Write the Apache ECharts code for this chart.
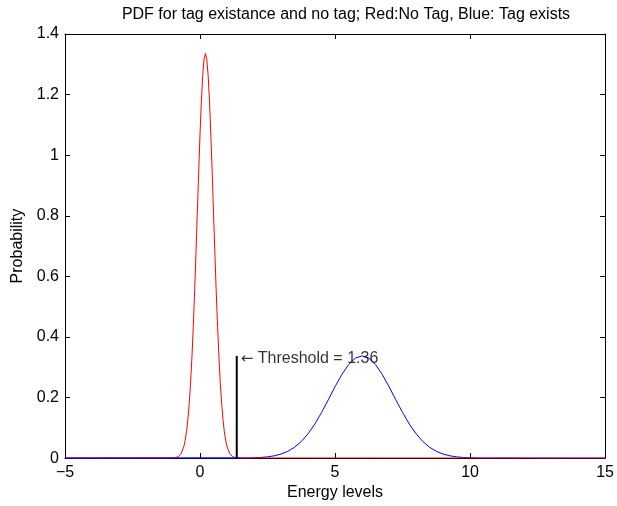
<!DOCTYPE html>
<html><head><meta charset="utf-8">
<script src="https://cdn.jsdelivr.net/npm/echarts@6/dist/echarts.min.js"></script>
<style>html,body{margin:0;padding:0;background:#fff}#c{width:617px;height:506px}</style>
</head><body><div id="c"></div>
<script>
const titleText = "PDF for tag existance and no tag; Red:No Tag, Blue: Tag exists";
const xName = "Energy levels";
const yName = "Probability";
const xTicks = [-5, 0, 5, 10, 15];
const yTicks = [0, 0.2, 0.4, 0.6, 0.8, 1, 1.2, 1.4];

// Red: No Tag
const redX = [-5, -1.0, -0.9, -0.8, -0.7, -0.6, -0.55, -0.5, -0.45, -0.4, -0.35, -0.3, -0.25, -0.2, -0.15, -0.1, -0.05, 0,
  0.05, 0.1, 0.15, 0.2, 0.25, 0.3, 0.35, 0.4, 0.45, 0.5, 0.55, 0.6, 0.65, 0.7, 0.75, 0.8, 0.85, 0.9, 0.95, 1.0, 1.1, 1.2, 1.3, 1.4, 15];
const redY = [0, 0.0004, 0.0016, 0.0052, 0.0148, 0.0382, 0.0587, 0.0878, 0.1277, 0.1808, 0.2488, 0.3332, 0.4338, 0.5493, 0.6764, 0.8103, 0.9440, 1.0697,
  1.1790, 1.2637, 1.3176, 1.336, 1.3176, 1.2637, 1.1790, 1.0697, 0.9440, 0.8103, 0.6764, 0.5493, 0.4338, 0.3332, 0.2488, 0.1808, 0.1277, 0.0878, 0.0587, 0.0382, 0.0148, 0.0052, 0.0016, 0.0004, 0];

// Blue: Tag exists
const blueX = [-5, 1.5, 1.75, 2, 2.25, 2.5, 2.75, 3, 3.25, 3.5, 3.75, 4, 4.25, 4.5, 4.75, 5, 5.25, 5.5, 5.75, 6,
  6.25, 6.5, 6.75, 7, 7.25, 7.5, 7.75, 8, 8.25, 8.5, 8.75, 9, 9.25, 9.5, 9.75, 10, 10.25, 10.5, 15];
const blueY = [0, 0.0002, 0.0005, 0.0011, 0.0022, 0.0041, 0.0076, 0.0133, 0.0223, 0.0358, 0.0548, 0.0803, 0.1124, 0.1505, 0.1926, 0.2357, 0.2758, 0.3085, 0.3300, 0.3375,
  0.3300, 0.3085, 0.2758, 0.2357, 0.1926, 0.1505, 0.1124, 0.0803, 0.0548, 0.0358, 0.0223, 0.0133, 0.0076, 0.0041, 0.0022, 0.0011, 0.0005, 0.0002, 0];

const thresholdX = [1.36, 1.36];
const thresholdY = [0, 0.3375];
const annotationArrow = "\u2190";
const annotationText = "Threshold = 1.36";

const FONT = "'Liberation Sans', Arial, Helvetica, sans-serif";
const FS = 16;
const zip = (xs, ys) => xs.map((x, i) => [x, ys[i]]);
const blueAll = zip(blueX, blueY);
const blueLeft = blueAll.filter(p => p[0] <= 1.5);

const chart = echarts.init(document.getElementById('c'), null, {renderer: 'canvas'});

const axisCommon = {
  axisLine: {show: true, onZero: false, lineStyle: {color: '#000', width: 1}},
  axisTick: {show: true, inside: true, length: 5, lineStyle: {color: '#000', width: 1}},
  splitLine: {show: false}
};
const labelStyle = {color: '#000', fontSize: FS, fontFamily: FONT};
const fmt = v => String(v).replace('-', '\u2212');

chart.setOption({
  animation: false,
  backgroundColor: '#fff',
  title: {
    text: titleText, left: 341, top: 2, textAlign: 'center',
    textStyle: {fontSize: FS, fontWeight: 'normal', color: '#000', fontFamily: FONT}
  },
  grid: {left: 65, right: 10, top: 34, bottom: 46, containLabel: false},
  xAxis: [
    Object.assign({
      type: 'value', position: 'bottom', min: xTicks[0], max: xTicks[xTicks.length - 1], interval: 5,
      axisLabel: Object.assign({margin: 6, formatter: fmt}, labelStyle),
      name: xName, nameLocation: 'middle', nameGap: 26,
      nameTextStyle: labelStyle
    }, axisCommon),
    Object.assign({
      type: 'value', position: 'top', min: xTicks[0], max: xTicks[xTicks.length - 1], interval: 5,
      axisLabel: {show: false}
    }, axisCommon)
  ],
  yAxis: [
    Object.assign({
      type: 'value', position: 'left', min: yTicks[0], max: yTicks[yTicks.length - 1], interval: 0.2,
      axisLabel: Object.assign({margin: 6, formatter: v => String(+v.toFixed(1))}, labelStyle),
      name: yName, nameLocation: 'middle', nameGap: 28, nameRotate: 90,
      nameTextStyle: labelStyle
    }, axisCommon),
    Object.assign({
      type: 'value', position: 'right', min: yTicks[0], max: yTicks[yTicks.length - 1], interval: 0.2,
      axisLabel: {show: false}
    }, axisCommon)
  ],
  series: [
    {type: 'line', name: 'Tag exists', data: blueAll, showSymbol: false, symbol: 'none',
      lineStyle: {color: '#0000ff', width: 1}, itemStyle: {color: '#0000ff'}},
    {type: 'line', name: 'No Tag', data: zip(redX, redY), showSymbol: false, symbol: 'none',
      lineStyle: {color: '#ff0000', width: 1}, itemStyle: {color: '#ff0000'}},
    {type: 'line', name: 'Tag exists (left)', data: blueLeft, showSymbol: false, symbol: 'none',
      lineStyle: {color: '#0000ff', width: 1}, itemStyle: {color: '#0000ff'}},
    {type: 'line', name: 'Threshold', data: zip(thresholdX, thresholdY), showSymbol: false, symbol: 'none',
      lineStyle: {color: '#000', width: 2}},
    {type: 'scatter', name: 'Annotation', data: [[thresholdX[1], thresholdY[1]]], symbolSize: 0, z: 10,
      label: {show: true, position: 'right', distance: 4, offset: [0, 3],
        formatter: '{a|' + annotationArrow + '} ' + annotationText,
        color: '#000', fontSize: FS, fontFamily: FONT,
        rich: {a: {fontFamily: "'DejaVu Sans'", fontSize: 15, color: '#000'}}}}
  ]
});
</script>
</body></html>
